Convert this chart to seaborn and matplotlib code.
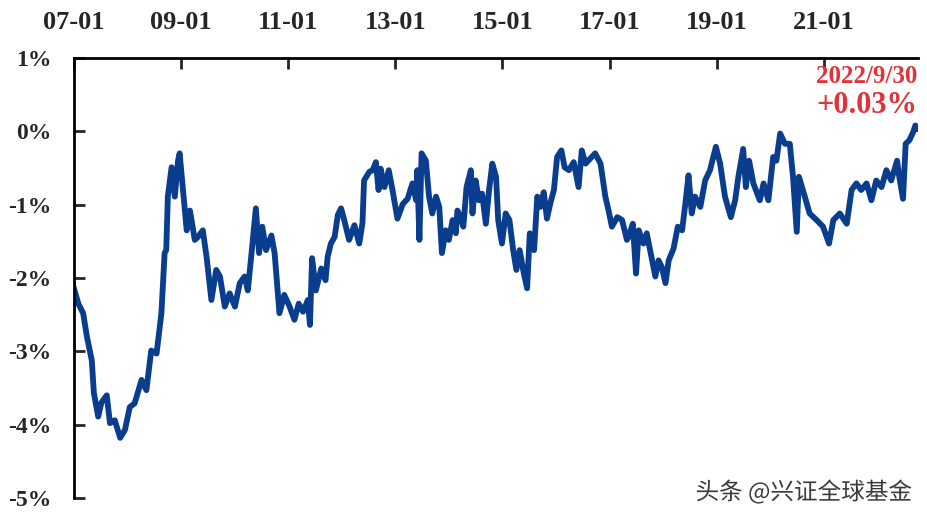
import seaborn as sns
import matplotlib.pyplot as plt
import matplotlib.patheffects as pe
import pandas as pd
import numpy as np

# time in decimal years, value in %
years = [
    2007.00, 2007.09, 2007.18, 2007.25, 2007.34, 2007.38, 2007.46, 2007.52, 2007.62, 2007.68,
    2007.77, 2007.87, 2007.96, 2008.05, 2008.14, 2008.27, 2008.36, 2008.45, 2008.55, 2008.64,
    2008.70, 2008.73, 2008.76, 2008.83, 2008.89, 2008.95, 2008.98, 2009.04, 2009.11, 2009.17,
    2009.26, 2009.32, 2009.41, 2009.48, 2009.57, 2009.66, 2009.73, 2009.82, 2009.91, 2010.01,
    2010.10, 2010.19, 2010.25, 2010.32, 2010.40, 2010.46, 2010.52, 2010.59, 2010.69, 2010.75,
    2010.84, 2010.93, 2011.03, 2011.12, 2011.20, 2011.28, 2011.37, 2011.41, 2011.45, 2011.52,
    2011.62, 2011.70, 2011.74, 2011.80, 2011.87, 2011.93, 2011.99, 2012.05, 2012.14, 2012.24,
    2012.33, 2012.39, 2012.42, 2012.52, 2012.58, 2012.64, 2012.69, 2012.73, 2012.80, 2012.88,
    2012.95, 2013.04, 2013.14, 2013.23, 2013.32, 2013.39, 2013.41, 2013.45, 2013.49, 2013.57,
    2013.63, 2013.69, 2013.76, 2013.82, 2013.87, 2013.94, 2014.00, 2014.07, 2014.13, 2014.16,
    2014.22, 2014.27, 2014.33, 2014.41, 2014.44, 2014.50, 2014.56, 2014.62, 2014.69, 2014.75,
    2014.81, 2014.88, 2014.92, 2014.99, 2015.06, 2015.13, 2015.20, 2015.26, 2015.32, 2015.40,
    2015.46, 2015.51, 2015.59, 2015.65, 2015.71, 2015.77, 2015.83, 2015.90, 2015.96, 2016.02,
    2016.10, 2016.16, 2016.24, 2016.33, 2016.42, 2016.48, 2016.55, 2016.64, 2016.73, 2016.83,
    2016.92, 2016.98, 2017.04, 2017.14, 2017.23, 2017.32, 2017.35, 2017.43, 2017.49, 2017.54,
    2017.63, 2017.69, 2017.79, 2017.85, 2017.91, 2017.97, 2018.04, 2018.10, 2018.19, 2018.27,
    2018.35, 2018.41, 2018.47, 2018.53, 2018.59, 2018.69, 2018.78, 2018.87, 2018.98, 2019.06,
    2019.15, 2019.26, 2019.34, 2019.40, 2019.49, 2019.54, 2019.60, 2019.68, 2019.80, 2019.87,
    2019.96, 2020.05, 2020.11, 2020.18, 2020.27, 2020.36, 2020.42, 2020.49, 2020.53, 2020.64,
    2020.73, 2020.86, 2020.98, 2021.09, 2021.17, 2021.29, 2021.42, 2021.51, 2021.60, 2021.69,
    2021.79, 2021.88, 2021.97, 2022.07, 2022.16, 2022.25, 2022.36, 2022.40, 2022.47, 2022.52,
    2022.59, 2022.66, 2022.70, 2022.747,
]
values = [
    -2.12, -2.35, -2.48, -2.80, -3.12, -3.57, -3.89, -3.70, -3.60, -3.98,
    -3.94, -4.18, -4.07, -3.76, -3.71, -3.39, -3.53, -2.99, -3.03, -2.48,
    -1.66, -1.62, -0.89, -0.49, -0.89, -0.40, -0.30, -0.80, -1.35, -1.08,
    -1.48, -1.44, -1.35, -1.71, -2.30, -1.89, -1.98, -2.39, -2.21, -2.39,
    -2.07, -1.98, -2.17, -1.66, -1.05, -1.66, -1.30, -1.62, -1.42, -1.66,
    -2.48, -2.23, -2.39, -2.57, -2.35, -2.46, -2.30, -2.64, -1.73, -2.17,
    -1.87, -2.03, -1.71, -1.53, -1.44, -1.14, -1.05, -1.21, -1.48, -1.28,
    -1.53, -1.25, -0.67, -0.55, -0.53, -0.42, -0.80, -0.51, -0.76, -0.53,
    -0.80, -1.19, -0.99, -0.92, -0.71, -0.94, -0.53, -1.48, -0.30, -0.40,
    -0.89, -1.12, -0.89, -1.03, -1.66, -1.35, -1.48, -1.21, -1.39, -1.08,
    -1.17, -1.30, -0.76, -0.53, -1.12, -0.67, -0.94, -0.85, -1.26, -0.80,
    -0.44, -0.62, -1.21, -1.53, -1.12, -1.21, -1.62, -1.89, -1.62, -1.94,
    -2.14, -1.39, -1.62, -0.89, -1.03, -0.83, -1.19, -0.96, -0.80, -0.35,
    -0.26, -0.49, -0.53, -0.42, -0.76, -0.26, -0.44, -0.37, -0.30, -0.44,
    -0.89, -1.08, -1.30, -1.17, -1.21, -1.48, -1.44, -1.26, -1.94, -1.35,
    -1.53, -1.39, -1.76, -1.98, -1.76, -1.85, -2.07, -1.76, -1.60, -1.30,
    -1.35, -0.99, -0.60, -1.12, -0.89, -1.03, -0.67, -0.53, -0.21, -0.44,
    -0.89, -1.17, -0.94, -0.62, -0.24, -0.76, -0.40, -0.71, -0.94, -0.71,
    -0.94, -0.35, -0.40, -0.03, -0.17, -0.17, -0.62, -1.37, -0.62, -0.89,
    -1.12, -1.21, -1.30, -1.53, -1.21, -1.12, -1.26, -0.80, -0.71, -0.80,
    -0.71, -0.94, -0.67, -0.76, -0.53, -0.67, -0.40, -0.62, -0.92, -0.17,
    -0.12, -0.01, 0.08, 0.03,
]
tick_years = [2007, 2009, 2011, 2013, 2015, 2017, 2019, 2021]
y_ticks = [1, 0, -1, -2, -3, -4, -5]
last_date = "2022/9/30"
last_label = "+0.03%"
watermark = "头条 @兴证全球基金"

line_color = "#0b3d8e"
red = "#e0343a"


def to_date(y):
    yr = int(np.floor(y))
    start = pd.Timestamp(year=yr, month=1, day=1)
    return start + pd.Timedelta(days=(y - yr) * 365.25)


df = pd.DataFrame({"date": [to_date(y) for y in years], "value": values})

sns.set_style("white")
plt.rcParams["font.family"] = ["Liberation Serif", "DejaVu Serif"]

fig = plt.figure(figsize=(9.27, 5.19), dpi=100)
ax = fig.add_axes([0.0793, 0.0405, 0.9107, 0.8477])

sns.lineplot(data=df, x="date", y="value", ax=ax, color=line_color,
             linewidth=4.2, solid_joinstyle="round", solid_capstyle="round")

ax.set_xlim(pd.Timestamp("2007-01-01"), pd.Timestamp("2022-09-30"))
ax.set_ylim(-5, 1)

ticks = [pd.Timestamp(year=y, month=1, day=1) for y in tick_years]
ax.set_xticks(ticks)
ax.set_xticklabels([t.strftime("%y-%m") for t in ticks])
ax.set_yticks(y_ticks)
ax.set_yticklabels([f"{v}%" for v in y_ticks])

ax.xaxis.tick_top()
ax.tick_params(axis="x", direction="in", length=8, width=2, pad=17,
               labelsize=19, top=True, bottom=False)
ax.tick_params(axis="y", direction="in", length=8, width=2, pad=16,
               labelsize=17, left=True)
for lab in ax.get_xticklabels() + ax.get_yticklabels():
    lab.set_fontweight("bold")

for s in ["right", "bottom"]:
    ax.spines[s].set_visible(False)
for s in ["left", "top"]:
    ax.spines[s].set_linewidth(2)
    ax.spines[s].set_color("black")

ax.set_xlabel("")
ax.set_ylabel("")

ax.text(0.999, 0.957, last_date, transform=ax.transAxes, ha="right", va="center",
        color=red, fontsize=18, fontweight="bold")
ax.text(0.999, 0.893, last_label, transform=ax.transAxes, ha="right", va="center",
        color=red, fontsize=22, fontweight="bold")

fig.text(0.984, 0.052, watermark, ha="right", va="center", fontsize=17,
         color="#3a3a3a", family=["Noto Sans CJK SC", "DejaVu Sans"],
         path_effects=[pe.withStroke(linewidth=2, foreground="white")])

fig.savefig("out.png", dpi=100)
